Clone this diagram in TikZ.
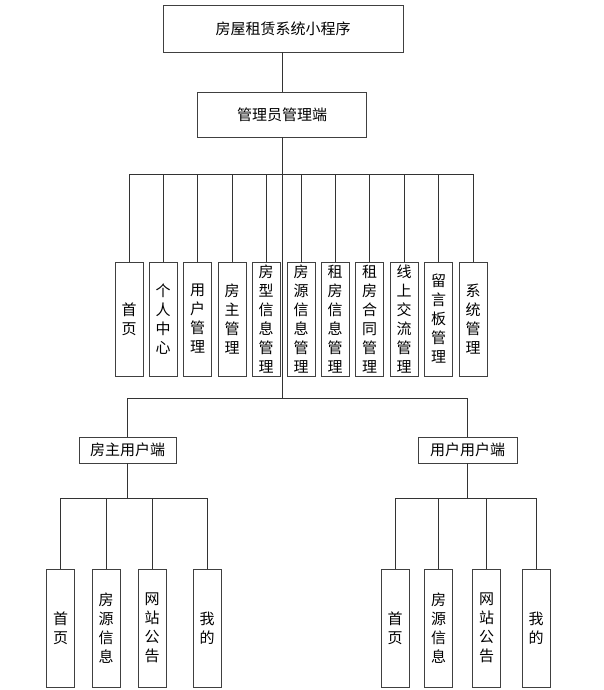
\documentclass[tikz,border=0pt]{standalone}
\usepackage{fontspec}
\usepackage{tikz}
\usepackage{xcolor}
\setmainfont{Noto Sans CJK SC}
\definecolor{boxline}{RGB}{64, 64, 64}

\begin{document}
\begin{tikzpicture}[x=1pt, y=-1pt,
    hbox/.style={draw=boxline, line width=0.9pt, fill=white, inner sep=0pt, font=\fontsize{15}{19}\selectfont},
    vbox/.style={draw=boxline, line width=0.9pt, fill=white, inner sep=0pt, minimum width=28pt, align=center, font=\fontsize{15}{19}\selectfont},
    link/.style={draw=black!80, line width=0.8pt}]
    \useasboundingbox (0,0) rectangle (604,690);

    % Root
    \node[hbox, minimum width=240pt, minimum height=47pt] (root) at (283,28.5) {房屋租赁系统小程序};

    % Admin side
    \node[hbox, minimum width=169pt, minimum height=45pt] (admin) at (282,114.5) {管理员管理端};

    % Admin modules
    \node[vbox, minimum height=114pt] (am1) at (129,319) {首\\页};
    \node[vbox, minimum height=114pt] (am2) at (163,319) {个\\人\\中\\心};
    \node[vbox, minimum height=114pt] (am3) at (197.5,319) {用\\户\\管\\理};
    \node[vbox, minimum height=114pt] (am4) at (232,319) {房\\主\\管\\理};
    \node[vbox, minimum height=114pt] (am5) at (266,319) {房\\型\\信\\息\\管\\理};
    \node[vbox, minimum height=114pt] (am6) at (301,319) {房\\源\\信\\息\\管\\理};
    \node[vbox, minimum height=114pt] (am7) at (335,319) {租\\房\\信\\息\\管\\理};
    \node[vbox, minimum height=114pt] (am8) at (369.5,319) {租\\房\\合\\同\\管\\理};
    \node[vbox, minimum height=114pt] (am9) at (404,319) {线\\上\\交\\流\\管\\理};
    \node[vbox, minimum height=114pt] (am10) at (438.5,319) {留\\言\\板\\管\\理};
    \node[vbox, minimum height=114pt] (am11) at (473,319) {系\\统\\管\\理};

    % User sides
    \node[hbox, minimum width=97pt, minimum height=26pt] (owner) at (127.5,450) {房主用户端};
    \node[hbox, minimum width=99pt, minimum height=26pt] (user) at (467.5,450) {用户用户端};

    % Owner modules
    \node[vbox, minimum height=118pt] (om1) at (60.5,628) {首\\页};
    \node[vbox, minimum height=118pt] (om2) at (106,628) {房\\源\\信\\息};
    \node[vbox, minimum height=118pt] (om3) at (152,628) {网\\站\\公\\告};
    \node[vbox, minimum height=118pt] (om4) at (207,628) {我\\的};

    % User modules
    \node[vbox, minimum height=118pt] (um1) at (395,628) {首\\页};
    \node[vbox, minimum height=118pt] (um2) at (438.5,628) {房\\源\\信\\息};
    \node[vbox, minimum height=118pt] (um3) at (486.5,628) {网\\站\\公\\告};
    \node[vbox, minimum height=118pt] (um4) at (536,628) {我\\的};

    % Bus points
    \coordinate (adminbus) at (282,174);
    \coordinate (sidebus) at (282,398);
    \coordinate (ownerbus) at (127.5,498);
    \coordinate (userbus) at (467.5,498);

    % Connectors
    \draw[link] (root.south -| admin.north) -- (admin.north);
    \draw[link] (admin.south) -- (sidebus);
    \draw[link] (am1.north) |- (adminbus);
    \draw[link] (am2.north) |- (adminbus);
    \draw[link] (am3.north) |- (adminbus);
    \draw[link] (am4.north) |- (adminbus);
    \draw[link] (am5.north) |- (adminbus);
    \draw[link] (am6.north) |- (adminbus);
    \draw[link] (am7.north) |- (adminbus);
    \draw[link] (am8.north) |- (adminbus);
    \draw[link] (am9.north) |- (adminbus);
    \draw[link] (am10.north) |- (adminbus);
    \draw[link] (am11.north) |- (adminbus);
    \draw[link] (owner.north) |- (sidebus);
    \draw[link] (user.north) |- (sidebus);

    \draw[link] (owner.south) -- (ownerbus);
    \draw[link] (om1.north) |- (ownerbus);
    \draw[link] (om2.north) |- (ownerbus);
    \draw[link] (om3.north) |- (ownerbus);
    \draw[link] (om4.north) |- (ownerbus);

    \draw[link] (user.south) -- (userbus);
    \draw[link] (um1.north) |- (userbus);
    \draw[link] (um2.north) |- (userbus);
    \draw[link] (um3.north) |- (userbus);
    \draw[link] (um4.north) |- (userbus);
\end{tikzpicture}
\end{document}
